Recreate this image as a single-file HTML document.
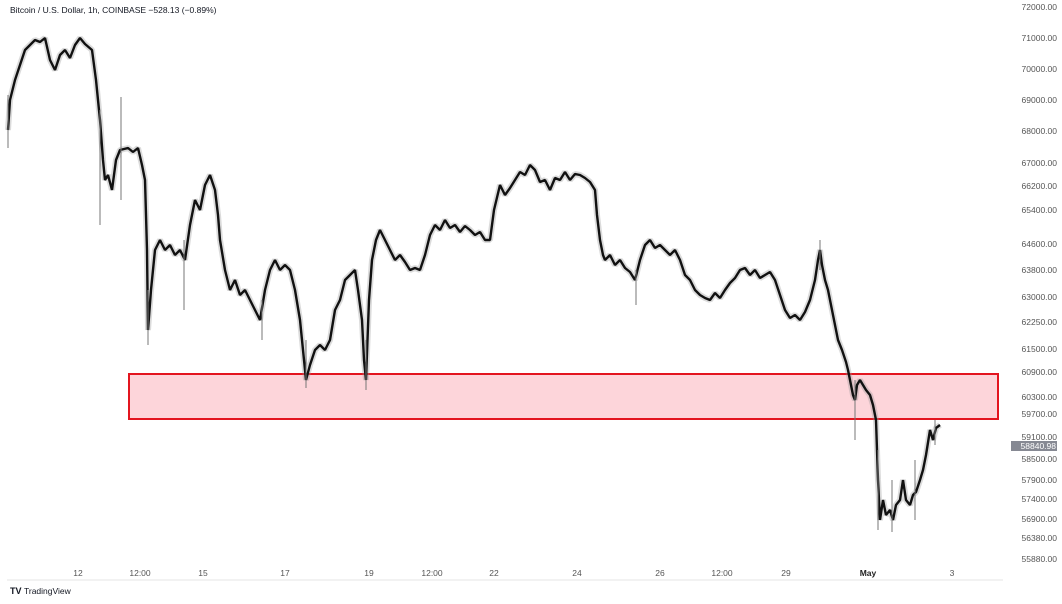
<!DOCTYPE html>
<html><head><meta charset="utf-8"><style>
html,body{margin:0;padding:0;background:#fff;}
body{width:1062px;height:599px;overflow:hidden;font-family:"Liberation Sans",sans-serif;}
svg text{font-family:"Liberation Sans",sans-serif;}
</style></head><body>
<svg width="1062" height="599" xmlns="http://www.w3.org/2000/svg">
<rect width="1062" height="599" fill="#fff"/>
<line x1="7" y1="580" x2="1003" y2="580" stroke="#e6e6e6"/>
<rect x="129" y="374" width="869" height="45" fill="#fdd5da" stroke="#e3151f" stroke-width="2"/>
<polyline fill="none" stroke="#999" stroke-width="6" stroke-opacity="0.35" stroke-linejoin="bevel" points="8,130 10,100 15,80 20,65 25,50 30,45 35,40 40,42 45,38 50,60 55,70 60,55 65,50 70,58 75,45 80,38 85,44 92,50 96,80 100,120 103,160 105,180 108,175 112,190 116,160 120,150 128,148 133,152 138,148 142,165 145,180 147,250 148,330 151,290 155,250 160,240 165,250 170,245 175,255 180,250 185,260 190,225 195,200 200,210 205,185 210,175 215,190 218,215 220,240 225,270 230,290 235,280 240,295 245,290 250,300 255,310 260,320 265,290 270,270 275,260 280,270 285,265 290,270 295,290 300,320 303,350 306,380 310,365 315,350 320,345 325,350 330,340 335,310 340,300 345,280 350,275 355,270 358,290 362,320 364,360 366,380 369,300 372,260 376,240 380,230 385,240 390,250 395,260 400,255 405,262 410,270 415,268 420,270 425,255 430,235 435,225 440,230 445,220 450,228 455,225 460,232 465,226 470,230 475,235 480,232 485,240 490,240 494,210 500,185 505,195 510,188 515,180 520,172 525,175 530,165 535,170 540,182 545,180 550,190 555,178 560,180 565,172 570,180 575,174 580,175 585,178 590,182 595,190 597,215 600,240 603,255 605,260 610,255 615,265 620,260 625,268 630,272 635,280 640,260 645,245 650,240 655,248 660,245 665,250 670,255 675,250 680,260 685,275 690,280 695,290 700,295 705,298 710,300 715,293 720,298 725,290 730,283 735,278 740,270 745,268 750,275 755,270 760,278 765,275 770,272 775,280 780,295 785,310 790,318 795,315 800,320 805,312 810,300 815,280 818,260 820,250 822,265 825,280 828,290 830,300 834,320 838,340 842,350 846,362 848,370 851,385 853,395 855,400 857,385 860,380 863,385 866,390 870,395 873,405 876,420 878,480 880,520 883,500 886,515 890,510 893,520 896,505 900,500 903,480 906,500 910,505 913,495 916,492 920,480 923,470 926,455 930,430 933,440 936,428 940,425"/>
<polyline fill="none" stroke="#111" stroke-width="2.4" stroke-linejoin="bevel" points="8,130 10,100 15,80 20,65 25,50 30,45 35,40 40,42 45,38 50,60 55,70 60,55 65,50 70,58 75,45 80,38 85,44 92,50 96,80 100,120 103,160 105,180 108,175 112,190 116,160 120,150 128,148 133,152 138,148 142,165 145,180 147,250 148,330 151,290 155,250 160,240 165,250 170,245 175,255 180,250 185,260 190,225 195,200 200,210 205,185 210,175 215,190 218,215 220,240 225,270 230,290 235,280 240,295 245,290 250,300 255,310 260,320 265,290 270,270 275,260 280,270 285,265 290,270 295,290 300,320 303,350 306,380 310,365 315,350 320,345 325,350 330,340 335,310 340,300 345,280 350,275 355,270 358,290 362,320 364,360 366,380 369,300 372,260 376,240 380,230 385,240 390,250 395,260 400,255 405,262 410,270 415,268 420,270 425,255 430,235 435,225 440,230 445,220 450,228 455,225 460,232 465,226 470,230 475,235 480,232 485,240 490,240 494,210 500,185 505,195 510,188 515,180 520,172 525,175 530,165 535,170 540,182 545,180 550,190 555,178 560,180 565,172 570,180 575,174 580,175 585,178 590,182 595,190 597,215 600,240 603,255 605,260 610,255 615,265 620,260 625,268 630,272 635,280 640,260 645,245 650,240 655,248 660,245 665,250 670,255 675,250 680,260 685,275 690,280 695,290 700,295 705,298 710,300 715,293 720,298 725,290 730,283 735,278 740,270 745,268 750,275 755,270 760,278 765,275 770,272 775,280 780,295 785,310 790,318 795,315 800,320 805,312 810,300 815,280 818,260 820,250 822,265 825,280 828,290 830,300 834,320 838,340 842,350 846,362 848,370 851,385 853,395 855,400 857,385 860,380 863,385 866,390 870,395 873,405 876,420 878,480 880,520 883,500 886,515 890,510 893,520 896,505 900,500 903,480 906,500 910,505 913,495 916,492 920,480 923,470 926,455 930,430 933,440 936,428 940,425"/>
<g stroke="#777" stroke-width="1">
<line x1="8" y1="148" x2="8" y2="95"/><line x1="100" y1="225" x2="100" y2="110"/><line x1="121" y1="200" x2="121" y2="97"/>
<line x1="148" y1="345" x2="148" y2="290"/><line x1="184" y1="310" x2="184" y2="240"/><line x1="306" y1="388" x2="306" y2="340"/>
<line x1="366" y1="390" x2="366" y2="340"/><line x1="855" y1="440" x2="855" y2="380"/><line x1="878" y1="530" x2="878" y2="450"/>
<line x1="892" y1="532" x2="892" y2="480"/><line x1="915" y1="520" x2="915" y2="460"/><line x1="935" y1="445" x2="935" y2="420"/>
<line x1="820" y1="270" x2="820" y2="240"/><line x1="636" y1="305" x2="636" y2="270"/><line x1="262" y1="340" x2="262" y2="300"/>
</g>
<text x="10" y="13" font-size="8.5" fill="#131722">Bitcoin / U.S. Dollar, 1h, COINBASE  −528.13 (−0.89%)</text>
<g font-size="8.5" fill="#555" text-anchor="end">
<text x="1057" y="10">72000.00</text><text x="1057" y="41">71000.00</text><text x="1057" y="72">70000.00</text>
<text x="1057" y="103">69000.00</text><text x="1057" y="134">68000.00</text><text x="1057" y="166">67000.00</text>
<text x="1057" y="189">66200.00</text><text x="1057" y="213">65400.00</text><text x="1057" y="247">64600.00</text>
<text x="1057" y="273">63800.00</text><text x="1057" y="300">63000.00</text><text x="1057" y="325">62250.00</text>
<text x="1057" y="352">61500.00</text><text x="1057" y="375">60900.00</text><text x="1057" y="400">60300.00</text>
<text x="1057" y="417">59700.00</text><text x="1057" y="440">59100.00</text><text x="1057" y="462">58500.00</text>
<text x="1057" y="483">57900.00</text><text x="1057" y="502">57400.00</text><text x="1057" y="522">56900.00</text>
<text x="1057" y="541">56380.00</text><text x="1057" y="562">55880.00</text>
</g>
<rect x="1011" y="441" width="46" height="10" fill="#868993"/>
<text x="1056" y="449" font-size="8.5" fill="#fff" text-anchor="end">58840.98</text>
<g font-size="8.5" fill="#555" text-anchor="middle">
<text x="78" y="576">12</text><text x="140" y="576">12:00</text><text x="203" y="576">15</text>
<text x="285" y="576">17</text><text x="369" y="576">19</text><text x="432" y="576">12:00</text>
<text x="494" y="576">22</text><text x="577" y="576">24</text><text x="660" y="576">26</text>
<text x="722" y="576">12:00</text><text x="786" y="576">29</text><text x="868" y="576" font-weight="bold" fill="#222">May</text>
<text x="952" y="576">3</text>
</g>
<text x="10" y="594" font-size="9" font-weight="bold" fill="#131722">TV</text>
<text x="24" y="594" font-size="8.5" fill="#131722">TradingView</text>
</svg>
</body></html>
